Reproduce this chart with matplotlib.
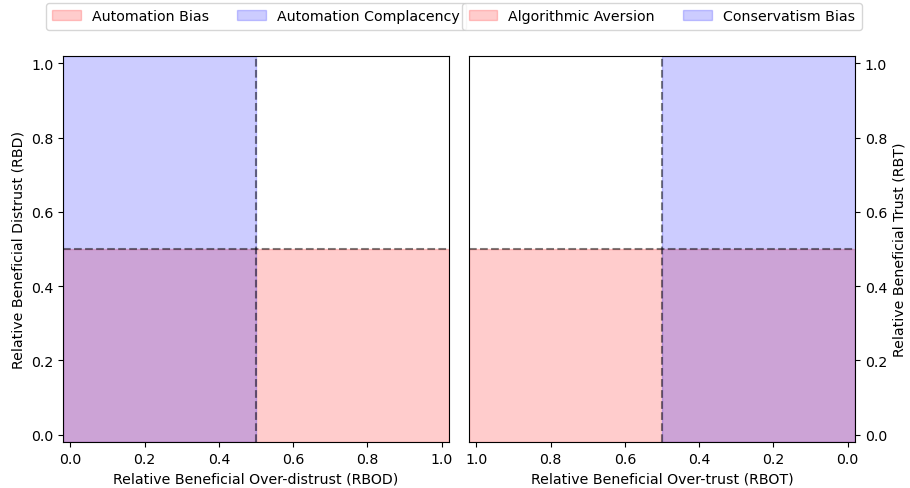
import matplotlib
matplotlib.use('Agg')
import matplotlib.pyplot as plt

# Thresholds splitting each panel into quadrants
THRESHOLD = 0.5
LIMITS = (-0.02, 1.02)

ticks = [0.0, 0.2, 0.4, 0.6, 0.8, 1.0]

left_labels = ['Automation Bias', 'Automation Complacency']
right_labels = ['Algorithmic Aversion', 'Conservatism Bias']
fill_colors = ['red', 'blue']

fig, (ax1, ax2) = plt.subplots(1, 2, figsize=(9.1, 4.89), dpi=100)
fig.subplots_adjust(left=0.0692, right=0.9396, bottom=0.0941, top=0.8834, wspace=0.052)

for ax, labels in ((ax1, left_labels), (ax2, right_labels)):
    ax.set_xlim(*LIMITS)
    ax.set_ylim(*LIMITS)
    # horizontal band: low y across the whole width
    ax.axhspan(LIMITS[0], THRESHOLD, color=fill_colors[0], alpha=0.2, label=labels[0])
    # vertical band: low x across the whole height
    ax.axvspan(LIMITS[0], THRESHOLD, color=fill_colors[1], alpha=0.2, label=labels[1])
    ax.axvline(THRESHOLD, color='black', linestyle='--', alpha=0.5, linewidth=1.5)
    ax.axhline(THRESHOLD, color='black', linestyle='--', alpha=0.5, linewidth=1.5)
    ax.set_xticks(ticks)
    ax.set_yticks(ticks)
    ax.legend(loc='lower center', bbox_to_anchor=(0.5, 1.05), ncol=2, fontsize=10.2,
              borderpad=0.45)

ax1.set_xlabel('Relative Beneficial Over-distrust (RBOD)', fontsize=10.2)
ax1.set_ylabel('Relative Beneficial Distrust (RBD)', fontsize=10.2)

ax2.invert_xaxis()
ax2.yaxis.tick_right()
ax2.yaxis.set_label_position('right')
ax2.set_xlabel('Relative Beneficial Over-trust (RBOT)', fontsize=10.2)
ax2.set_ylabel('Relative Beneficial Trust (RBT)', fontsize=10.2)

for ax in (ax1, ax2):
    ax.tick_params(labelsize=10.2)

plt.savefig('out.png', dpi=100)
plt.close()
